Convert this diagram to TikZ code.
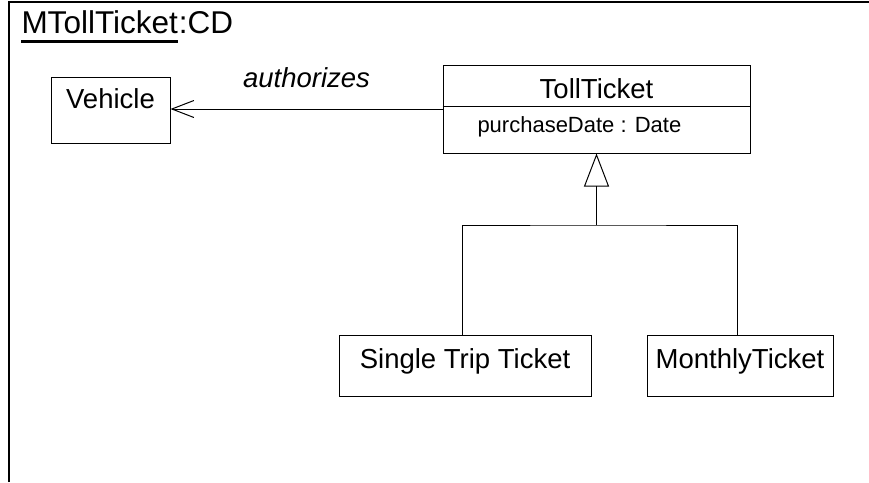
\documentclass[tikz,border=0pt]{standalone}
\usepackage{fontspec}
\setmainfont{Liberation Sans}
\usetikzlibrary{arrows.meta}

\begin{document}
\begin{tikzpicture}[x=1pt,y=-1pt,line width=1pt,
  classbox/.style={draw,inner sep=0pt,font=\fontsize{27.5}{30}\selectfont},
  attr/.style={inner sep=0pt,font=\fontsize{22}{26}\selectfont},
  titletext/.style={inner sep=0pt,font=\fontsize{31.5}{34}\selectfont},
  assoc/.style={-{Straight Barb[length=22pt,width=17pt]}},
  gen/.style={-{Triangle[open,length=33pt,width=25pt]}}]
\useasboundingbox (0,0) rectangle (869,482);

% frame, open to the right and below
\draw[line width=2pt] (9,482) -- (9,2) -- (869,2);
\node[titletext,anchor=base west] (titlename) at (21,33) {MTollTicket};
\node[titletext,anchor=base west] (titlekind) at (titlename.base east) {:CD};
\draw[line width=3pt] ([yshift=-8.5pt]titlename.base west) -- ([yshift=-8.5pt]titlename.base east);

% classes
\node[classbox,minimum width=119pt,text height=31pt,text depth=35pt,anchor=base] (vehicle) at (110.5,108) {Vehicle};
\node[classbox,minimum width=307pt,text height=33pt,text depth=55pt,anchor=base] (toll) at (596.5,98) {TollTicket};
\draw ([yshift=-42pt]toll.north west) -- ([yshift=-42pt]toll.north east);
\node[attr,anchor=base west] (purchase) at (477,132) {purchaseDate : Date};

\node[classbox,minimum width=252pt,text height=33pt,text depth=28pt,anchor=base] (single) at (465,368) {Single Trip Ticket};
\node[classbox,minimum width=186pt,text height=33pt,text depth=28pt,anchor=base] (monthly) at (740,368) {MonthlyTicket};

% association
\draw[assoc] (toll.west) -- (toll.west -| vehicle.east)
  node[midway,anchor=base,yshift=22pt,font=\fontsize{27.5}{30}\selectfont\itshape] (auth) {authorizes};

% generalization
\coordinate (fork) at (596.5,225);
\draw[gen] (fork) -- (toll.south);
\draw ([xshift=-3pt]single.north) |- (fork) -| ([xshift=-3pt]monthly.north);
\end{tikzpicture}
\end{document}
